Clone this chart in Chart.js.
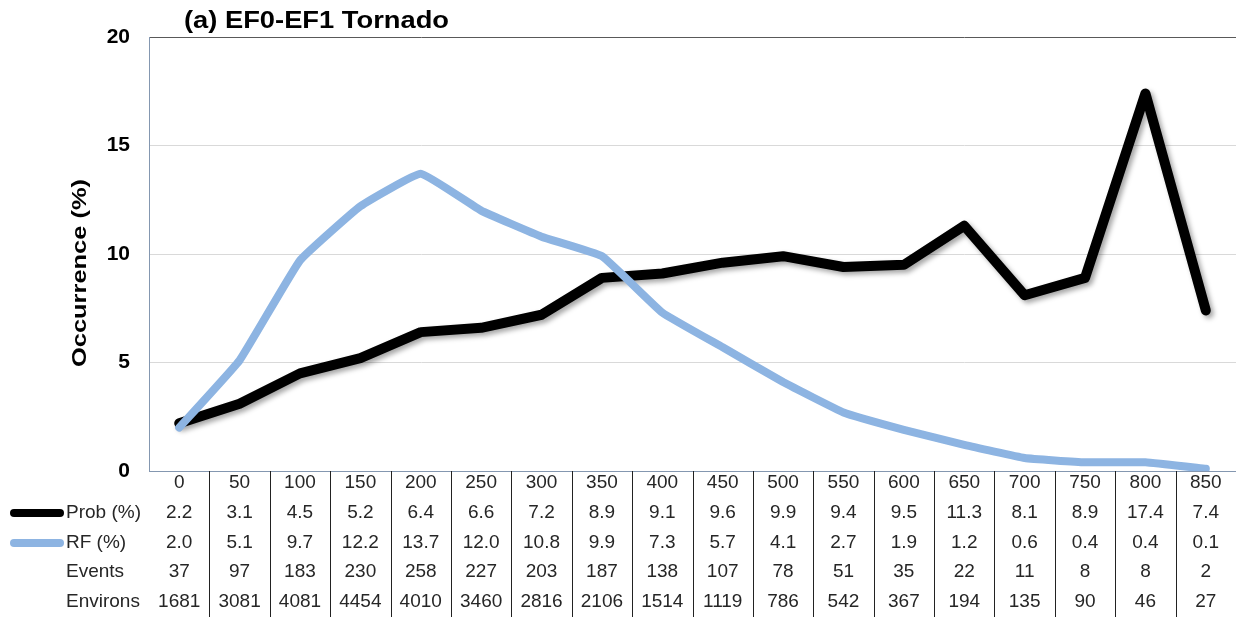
<!DOCTYPE html>
<html>
<head>
<meta charset="utf-8">
<script src="https://cdn.jsdelivr.net/npm/chart.js@4/dist/chart.umd.min.js"></script>
<style>
  html, body { margin: 0; padding: 0; background: #fff; }
  #wrap { width: 1236px; height: 617px; position: relative; }
</style>
</head>
<body>
<div id="wrap"><canvas id="chart"></canvas></div>
<script>
// distance bins (table header)
const distances = ["0", "50", "100", "150", "200", "250", "300", "350", "400", "450", "500", "550", "600", "650", "700", "750", "800", "850"];
const probPct = [2.2, 3.1, 4.5, 5.2, 6.4, 6.6, 7.2, 8.9, 9.1, 9.6, 9.9, 9.4, 9.5, 11.3, 8.1, 8.9, 17.4, 7.4];
const rfPct = [2.0, 5.1, 9.7, 12.2, 13.7, 12.0, 10.8, 9.9, 7.3, 5.7, 4.1, 2.7, 1.9, 1.2, 0.6, 0.4, 0.4, 0.1];
const events = [37, 97, 183, 230, 258, 227, 203, 187, 138, 107, 78, 51, 35, 22, 11, 8, 8, 2];
const environs = [1681, 3081, 4081, 4454, 4010, 3460, 2816, 2106, 1514, 1119, 786, 542, 367, 194, 135, 90, 46, 27];
const yTicks = [0, 5, 10, 15, 20];

const probColor = "#000000";
const rfColor = "#8db4e2";
const FONT = "'Liberation Sans', Arial, sans-serif";

// table rows: label, values, legend swatch colour
const tableRows = [
    { label: "", values: distances },
    { label: "Prob (%)", values: probPct.map(v => v.toFixed(1)), swatch: probColor },
    { label: "RF (%)", values: rfPct.map(v => v.toFixed(1)), swatch: rfColor },
    { label: "Events", values: events },
    { label: "Environs", values: environs }
];
const rowOffsets = [12, 42, 72, 101, 131];

// text squeezed/stretched to a target width, like the source figure
function fitText(ctx, text, x, y, targetW) {
    const w = ctx.measureText(text).width;
    ctx.save();
    ctx.translate(x, y);
    ctx.scale(targetW / w, 1);
    ctx.fillText(text, 0, 0);
    ctx.restore();
}

const shadowPlugin = {
    id: "shadow",
    beforeDatasetDraw(chart, args) {
        if (args.index !== 0) return;
        const ctx = chart.ctx;
        ctx.save();
        ctx.shadowColor = "rgba(0,0,0,0.35)";
        ctx.shadowBlur = 5;
        ctx.shadowOffsetX = 3;
        ctx.shadowOffsetY = 3;
    },
    afterDatasetDraw(chart, args) {
        if (args.index !== 0) return;
        chart.ctx.restore();
    }
};

const tablePlugin = {
    id: "dataTable",
    afterDraw(chart) {
        const ctx = chart.ctx;
        const x = chart.scales.x;
        const area = chart.chartArea;
        ctx.save();

        // title
        ctx.fillStyle = "#000";
        ctx.font = "bold 24px " + FONT;
        ctx.textAlign = "left";
        ctx.textBaseline = "alphabetic";
        fitText(ctx, "(a) EF0-EF1 Tornado", 184, 28, 265);

        // y axis title
        ctx.save();
        ctx.translate(80, 273);
        ctx.rotate(-Math.PI / 2);
        ctx.textAlign = "center";
        ctx.textBaseline = "middle";
        ctx.font = "bold 21px " + FONT;
        fitText(ctx, "Occurrence (%)", 0, 0, 188);
        ctx.restore();

        // vertical separators between columns
        ctx.strokeStyle = "#222";
        ctx.lineWidth = 1;
        for (let i = 0; i < distances.length - 1; i++) {
            const bx = Math.round((x.getPixelForValue(i) + x.getPixelForValue(i + 1)) / 2) + 0.5;
            ctx.beginPath();
            ctx.moveTo(bx, area.bottom);
            ctx.lineTo(bx, chart.height);
            ctx.stroke();
        }

        // cell text
        ctx.font = "19px " + FONT;
        ctx.fillStyle = "#262626";
        ctx.textBaseline = "middle";
        tableRows.forEach((row, r) => {
            const y = area.bottom + rowOffsets[r];
            ctx.textAlign = "center";
            row.values.forEach((v, i) => {
                ctx.fillText(String(v), x.getPixelForValue(i), y);
            });
            if (row.label) {
                ctx.textAlign = "left";
                ctx.fillText(row.label, 66, y);
            }
            if (row.swatch) {
                ctx.strokeStyle = row.swatch;
                ctx.lineWidth = 8;
                ctx.lineCap = "round";
                ctx.beginPath();
                ctx.moveTo(14, y);
                ctx.lineTo(60, y);
                ctx.stroke();
            }
        });
        ctx.restore();
    }
};

new Chart(document.getElementById("chart"), {
    type: "line",
    data: {
        labels: distances,
        datasets: [
            {
                label: "Prob (%)",
                data: probPct,
                borderColor: probColor,
                borderWidth: 10,
                borderCapStyle: "round",
                borderJoinStyle: "round",
                pointRadius: 0,
                tension: 0,
                order: 2
            },
            {
                label: "RF (%)",
                data: rfPct,
                borderColor: rfColor,
                borderWidth: 8,
                borderCapStyle: "round",
                borderJoinStyle: "round",
                pointRadius: 0,
                tension: 0.1,
                order: 1
            }
        ]
    },
    options: {
        responsive: true,
        maintainAspectRatio: false,
        animation: false,
        layout: { padding: { top: 37, bottom: 146, left: 0, right: 0 } },
        plugins: {
            legend: { display: false },
            title: { display: false },
            tooltip: { enabled: false }
        },
        scales: {
            x: {
                offset: true,
                grid: { display: false },
                border: { color: "#8497b0", width: 1 },
                ticks: { display: false },
                afterFit: s => { s.height = 0; }
            },
            y: {
                min: 0,
                max: 20,
                afterBuildTicks: s => { s.ticks = yTicks.map(v => ({ value: v })); },
                afterFit: s => { s.width = 149; },
                grid: {
                    drawTicks: false,
                    color: c => c.tick && c.tick.value === 20 ? "#595959" : "#d9d9d9",
                    lineWidth: 1
                },
                border: { color: "#8497b0", width: 1 },
                ticks: {
                    padding: 19,
                    color: "#000",
                    font: { family: FONT, size: 21, weight: "bold" }
                }
            }
        }
    },
    plugins: [shadowPlugin, tablePlugin]
});
</script>
</body>
</html>
